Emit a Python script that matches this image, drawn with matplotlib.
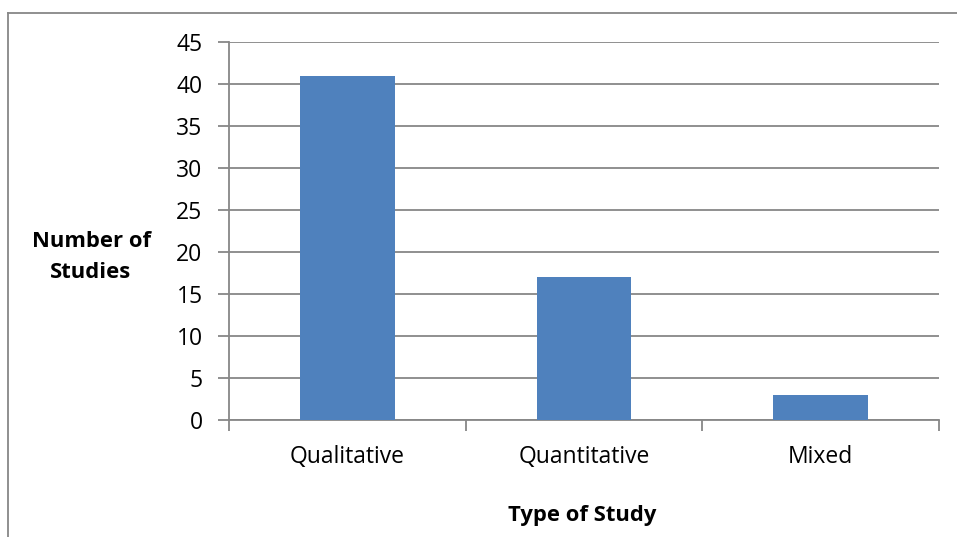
import matplotlib.pyplot as plt
from matplotlib.lines import Line2D

categories = ['Qualitative', 'Quantitative', 'Mixed']
counts = [41, 17, 3]
yticks = [0, 5, 10, 15, 20, 25, 30, 35, 40, 45]

W, H = 957, 537
plt.rcParams['font.family'] = ['Open Sans', 'DejaVu Sans']

fig = plt.figure(figsize=(W / 100, H / 100), dpi=100)
ax = fig.add_axes([229 / W, 1 - 420 / H, (939 - 229) / W, (420 - 42) / H])

grey = '#878787'
x = list(range(len(categories)))
ax.bar(x, counts, width=0.4, color='#4f81bd', zorder=3)

ax.set_xlim(-0.5, len(categories) - 0.5)
ax.set_ylim(0, 45)
ax.set_yticks(yticks)
ax.yaxis.grid(True, color=grey, linewidth=1.3, zorder=0)

# category separator ticks on the x axis
ax.set_xticks([i - 0.5 for i in range(len(categories) + 1)])
ax.set_xticklabels([])
ax.set_xticks(x, minor=True)
ax.set_xticklabels(categories, minor=True, fontsize=16.5)
ax.tick_params(axis='x', which='major', length=8, color=grey, width=1.3)
ax.tick_params(axis='x', which='minor', length=0, pad=18)
ax.tick_params(axis='y', length=8, color=grey, width=1.3, labelsize=16.5, pad=11)

for side in ['top', 'right']:
    ax.spines[side].set_visible(False)
for side in ['left', 'bottom']:
    ax.spines[side].set_color(grey)
    ax.spines[side].set_linewidth(1.3)

fig.text(91 / W, 1 - 257 / H, 'Number of\nStudies', ha='center', va='center',
         fontsize=15.8, fontweight='bold', linespacing=1.65)
fig.text(582 / W, 1 - 516 / H, 'Type of Study', ha='center', va='center',
         fontsize=15.8, fontweight='bold')

# outer chart frame
fig.add_artist(Line2D([8 / W, 8 / W], [0, 1 - 13 / H], color=grey, linewidth=1.3))
fig.add_artist(Line2D([8 / W, 1], [1 - 13 / H, 1 - 13 / H], color=grey, linewidth=1.3))

fig.savefig('out.png', dpi=100)
